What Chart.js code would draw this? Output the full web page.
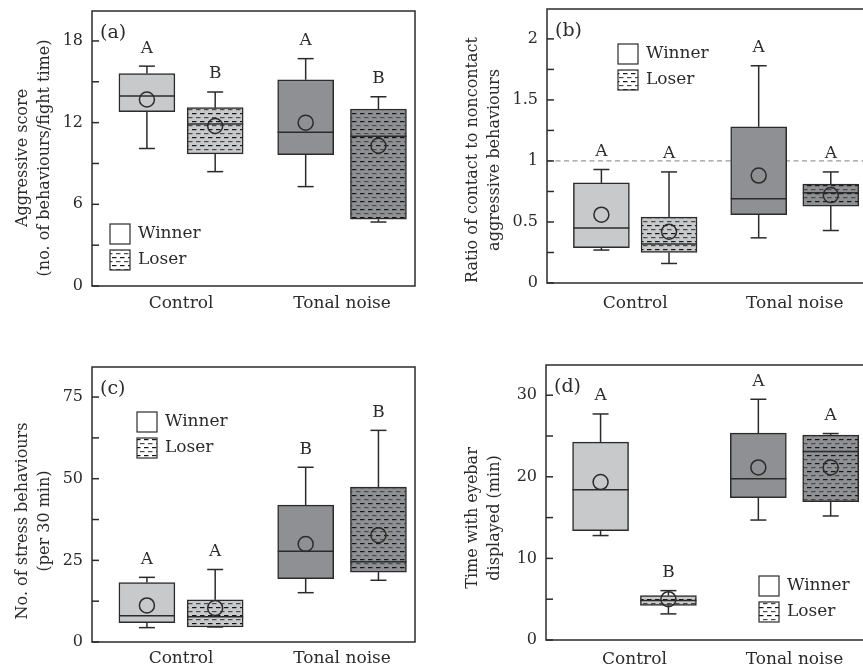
<!DOCTYPE html>
<html>
<head>
<meta charset="utf-8">
<script src="https://cdn.jsdelivr.net/npm/chart.js@4.4.1/dist/chart.umd.min.js"></script>
<style>
    html, body { margin: 0; padding: 0; background: #fff; width: 863px; height: 669px; overflow: hidden; }
    canvas { position: absolute; }
</style>
</head>
<body>
<canvas id="ca"></canvas>
<canvas id="cb"></canvas>
<canvas id="cc"></canvas>
<canvas id="cd"></canvas>
<script>
const categories = ['Control', 'Tonal noise'];
const groups = ['Winner', 'Loser'];

// order of every series: control winner, control loser, tonal winner, tonal loser
const aggLow = [10.1, 8.4, 7.3, 4.7];
const aggQ1 = [12.8, 9.7, 9.65, 4.9];
const aggMedian = [13.95, 11.9, 11.3, 11.0];
const aggQ3 = [15.6, 13.1, 15.15, 13.0];
const aggHigh = [16.15, 14.25, 16.7, 13.9];
const aggMean = [13.7, 11.75, 12.0, 10.3];
const aggLetters = ['A', 'B', 'A', 'B'];
const aggTicks = [0, 6, 12, 18];

const ratioLow = [0.27, 0.16, 0.37, 0.43];
const ratioQ1 = [0.29, 0.25, 0.56, 0.63];
const ratioMedian = [0.45, 0.32, 0.69, 0.74];
const ratioQ3 = [0.82, 0.54, 1.28, 0.81];
const ratioHigh = [0.93, 0.91, 1.78, 0.91];
const ratioMean = [0.56, 0.42, 0.88, 0.72];
const ratioLetters = ['A', 'A', 'A', 'A'];
const ratioTicks = [0, 0.5, 1, 1.5, 2];

const stressLow = [4.4, 4.6, 15.1, 18.9];
const stressQ1 = [5.9, 4.6, 19.4, 21.4];
const stressMedian = [8.0, 7.7, 27.8, 24.6];
const stressQ3 = [18.2, 12.9, 41.9, 47.4];
const stressHigh = [19.8, 22.2, 53.5, 64.8];
const stressMean = [11.2, 10.4, 30.0, 32.7];
const stressLetters = ['A', 'A', 'B', 'B'];
const stressTicks = [0, 25, 50, 75];

const eyebarLow = [12.8, 3.2, 14.7, 15.2];
const eyebarQ1 = [13.4, 4.25, 17.45, 16.95];
const eyebarMedian = [18.4, 4.85, 19.75, 23.1];
const eyebarQ3 = [24.25, 5.45, 25.35, 25.1];
const eyebarHigh = [27.7, 6.05, 29.5, 25.3];
const eyebarMean = [19.35, 5.0, 21.15, 21.15];
const eyebarLetters = ['A', 'B', 'A', 'A'];
const eyebarTicks = [0, 10, 20, 30];

const FONT = '"DejaVu Serif", serif';
const INK = '#2b2b2b';
const LIGHT = '#c8c9cb';
const DARK = '#8f9093';
const HALF_GAP = [0.212, 0.226];
const X_MIN = -0.553;
const X_MAX = 1.453;
const Y_AXIS_W = 40;
const X_AXIS_H = 27;

const panels = [
    { id: 'ca', box: [0, 0, 431, 334], frame: [92, 11, 415, 286], yMax: 20.2, yStep: 3, xPad: 7,
      tag: '(a)', title: ['Aggressive score', '(no. of behaviours/fight time)'], titleX: [23, 45], titleY: 158, legend: [110, 224],
      low: aggLow, q1: aggQ1, median: aggMedian, q3: aggQ3, high: aggHigh, mean: aggMean, letters: aggLetters, ticks: aggTicks },
    { id: 'cb', box: [431, 0, 445, 334], frame: [547, 7, 870, 283], yMax: 2.245, yStep: 0.25, xPad: 10,
      tag: '(b)', title: ['Ratio of contact to noncontact', 'aggressive behaviours'], titleX: [473, 495], titleY: 160, legend: [618, 44], refLine: 1,
      low: ratioLow, q1: ratioQ1, median: ratioMedian, q3: ratioQ3, high: ratioHigh, mean: ratioMean, letters: ratioLetters, ticks: ratioTicks },
    { id: 'cc', box: [0, 334, 431, 335], frame: [92, 367, 415, 642], yMax: 84.2, yStep: 12.5, xPad: 6,
      tag: '(c)', title: ['No. of stress behaviours', '(per 30 min)'], titleX: [23, 45], titleY: 521, legend: [137, 412],
      low: stressLow, q1: stressQ1, median: stressMedian, q3: stressQ3, high: stressHigh, mean: stressMean, letters: stressLetters, ticks: stressTicks },
    { id: 'cd', box: [431, 334, 445, 335], frame: [546, 365, 869, 640], yMax: 33.7, yStep: 5, xPad: 9,
      tag: '(d)', title: ['Time with eyebar', 'displayed (min)'], titleX: [473, 495], titleY: 518, legend: [759, 576],
      low: eyebarLow, q1: eyebarQ1, median: eyebarMedian, q3: eyebarQ3, high: eyebarHigh, mean: eyebarMean, letters: eyebarLetters, ticks: eyebarTicks },
];

function makePanel(p) {
    const [cx, cy, cw, ch] = p.box;
    const [fl, ft, fr, fb] = p.frame;
    const canvas = document.getElementById(p.id);
    canvas.width = cw;
    canvas.height = ch;
    canvas.style.left = cx + 'px';
    canvas.style.top = cy + 'px';
    const ctx = canvas.getContext('2d');

    const hatch = (base) => {
        const t = document.createElement('canvas');
        t.width = 8;
        t.height = 8;
        const g = t.getContext('2d');
        g.fillStyle = base;
        g.fillRect(0, 0, 8, 8);
        g.fillStyle = '#151515';
        g.fillRect(0, 1, 4.5, 1.2);
        g.fillStyle = '#4a4a4a';
        g.fillRect(4, 5, 4.5, 1.2);
        g.fillRect(0, 5, 0.5, 1.2);
        return ctx.createPattern(t, 'repeat');
    };
    const fills = [LIGHT, hatch(LIGHT), DARK, hatch(DARK)];
    const legendHatch = hatch('#ffffff');

    const pos = p.q1.map((v, i) => {
        const cat = Math.floor(i / 2);
        return cat + (i % 2 ? 1 : -1) * HALF_GAP[cat];
    });

    const line = (x1, y1, x2, y2) => {
        ctx.beginPath();
        ctx.moveTo(x1, y1);
        ctx.lineTo(x2, y2);
        ctx.stroke();
    };

    new Chart(canvas, {
        type: 'bar',
        data: {
            datasets: [
                {
                    type: 'scatter',
                    label: 'Mean',
                    data: p.mean.map((v, i) => ({ x: pos[i], y: v })),
                    pointRadius: 7.5,
                    pointHoverRadius: 7.5,
                    pointBackgroundColor: 'rgba(0,0,0,0)',
                    pointBorderColor: INK,
                    pointBorderWidth: 1.5,
                },
                {
                    type: 'bar',
                    label: 'Box',
                    data: p.q1.map((v, i) => ({ x: pos[i], y: [v, p.q3[i]] })),
                    backgroundColor: fills,
                    borderColor: INK,
                    borderWidth: 1.5,
                    borderSkipped: false,
                    grouped: false,
                    barPercentage: 1,
                    categoryPercentage: 1,
                    maxBarThickness: 56,
                },
            ],
        },
        options: {
            responsive: false,
            animation: false,
            events: [],
            layout: {
                padding: {
                    left: fl - cx - Y_AXIS_W,
                    top: ft - cy,
                    right: cx + cw - fr,
                    bottom: Math.max(cy + ch - fb - X_AXIS_H, 0),
                },
            },
            scales: {
                x: {
                    type: 'linear',
                    min: X_MIN,
                    max: X_MAX,
                    offset: false,
                    afterBuildTicks: (s) => { s.ticks = categories.map((c, i) => ({ value: i })); },
                    afterFit: (s) => { s.height = Math.min(X_AXIS_H, cy + ch - fb); s.paddingLeft = 0; s.paddingRight = 0; },
                    grid: { display: false, drawTicks: false },
                    border: { display: false },
                    ticks: {
                        callback: (v) => categories[v],
                        font: { family: FONT, size: 17 },
                        color: INK,
                        padding: p.xPad,
                        autoSkip: false,
                        maxRotation: 0,
                    },
                },
                y: {
                    type: 'linear',
                    min: 0,
                    max: p.yMax,
                    afterFit: (s) => { s.width = Y_AXIS_W; s.paddingTop = 0; s.paddingBottom = 0; },
                    grid: { display: false, drawTicks: false },
                    border: { display: false },
                    ticks: {
                        stepSize: p.yStep,
                        includeBounds: false,
                        autoSkip: false,
                        callback: (v) => (p.ticks.some((t) => Math.abs(t - v) < 1e-6) ? String(+v.toFixed(2)) : ''),
                        font: { family: FONT, size: 16 },
                        color: INK,
                        padding: 9,
                    },
                },
            },
            plugins: {
                legend: { display: false },
                tooltip: { enabled: false },
            },
        },
        plugins: [{
            id: 'boxDeco',
            beforeDatasetsDraw(chart) {
                if (p.refLine === undefined) return;
                const area = chart.chartArea;
                const y = chart.scales.y.getPixelForValue(p.refLine);
                ctx.save();
                ctx.strokeStyle = '#9a9a9a';
                ctx.lineWidth = 1.2;
                ctx.setLineDash([5, 3.5]);
                line(area.left, y, area.right, y);
                ctx.restore();
            },
            afterDatasetDraw(chart, args) {
                if (args.index !== 1) return;
                const ys = chart.scales.y;
                ctx.save();
                ctx.strokeStyle = INK;
                ctx.lineWidth = 1.5;
                args.meta.data.forEach((bar, i) => {
                    const x = bar.x;
                    const hw = bar.width / 2;
                    const yLo = ys.getPixelForValue(p.low[i]);
                    const yQ1 = ys.getPixelForValue(p.q1[i]);
                    const yMed = ys.getPixelForValue(p.median[i]);
                    const yQ3 = ys.getPixelForValue(p.q3[i]);
                    const yHi = ys.getPixelForValue(p.high[i]);
                    line(x, yQ3, x, yHi);
                    line(x - 8, yHi, x + 8, yHi);
                    line(x, yQ1, x, yLo);
                    line(x - 8, yLo, x + 8, yLo);
                    line(x - hw, yMed, x + hw, yMed);
                });
                ctx.restore();
            },
            afterDraw(chart) {
                const area = chart.chartArea;
                const ys = chart.scales.y;
                ctx.save();
                ctx.strokeStyle = INK;
                ctx.lineWidth = 1.5;
                ctx.strokeRect(area.left, area.top, area.right - area.left, area.bottom - area.top);
                ys.ticks.forEach((t) => {
                    const y = ys.getPixelForValue(t.value);
                    line(area.left, y, area.left + 7, y);
                });

                ctx.fillStyle = INK;
                ctx.textAlign = 'center';
                ctx.textBaseline = 'middle';
                ctx.font = `17px ${FONT}`;
                chart.getDatasetMeta(1).data.forEach((bar, i) => {
                    ctx.fillText(p.letters[i], bar.x, ys.getPixelForValue(p.high[i]) - 18);
                });

                ctx.textAlign = 'left';
                ctx.font = `19px ${FONT}`;
                ctx.fillText(p.tag, area.left + 8, area.top + 22);

                const lx = p.legend[0] - cx;
                const ly = p.legend[1] - cy;
                ctx.lineWidth = 1.2;
                ctx.fillStyle = '#ffffff';
                ctx.fillRect(lx, ly, 20, 20);
                ctx.strokeRect(lx, ly, 20, 20);
                ctx.fillStyle = legendHatch;
                ctx.fillRect(lx, ly + 26, 20, 20);
                ctx.strokeRect(lx, ly + 26, 20, 20);
                ctx.fillStyle = INK;
                ctx.font = `17px ${FONT}`;
                groups.forEach((g, i) => ctx.fillText(g, lx + 28, ly + 10 + i * 26));

                ctx.font = `16px ${FONT}`;
                ctx.textAlign = 'center';
                p.title.forEach((txt, i) => {
                    ctx.save();
                    ctx.translate(p.titleX[i] - cx, p.titleY - cy);
                    ctx.rotate(-Math.PI / 2);
                    ctx.fillText(txt, 0, 0);
                    ctx.restore();
                });
                ctx.restore();
            },
        }],
    });
}

panels.forEach(makePanel);
</script>
</body>
</html>
